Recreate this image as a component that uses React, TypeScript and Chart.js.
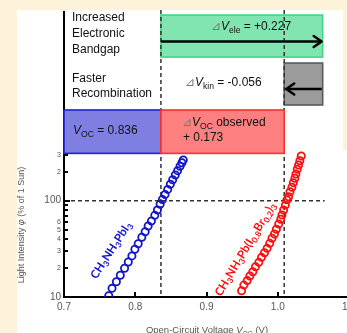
import { useEffect, useRef } from 'react';
import { Chart, registerables } from 'chart.js';
Chart.register(...registerables);

// ---- data ----
const xTicks = [0.7, 0.8, 0.9, 1.0, 1.1];
const yTickValues = [10, 20, 30, 40, 50, 60, 70, 80, 90, 100, 200, 300];
const yTickLabels = ['10', '2', '3', '4', '5', '6', '', '', '', '100', '2', '3'];
const yMajor = [10, 100];

const mapiVoc = [0.7628, 0.7674, 0.7735, 0.779, 0.785, 0.7902, 0.7953, 0.7995, 0.8041, 0.8092, 0.8139, 0.8181, 0.8227, 0.8274, 0.8311, 0.8349, 0.8381, 0.8418, 0.8455, 0.8492, 0.8525, 0.8562, 0.8594, 0.8628, 0.8655, 0.8674];
const mapiPhi = [10.3, 12.3, 14.4, 16.8, 19.9, 23.1, 26.7, 31.3, 35.7, 41.7, 47.6, 54.6, 61.5, 70.5, 80, 91.8, 103, 116, 131, 148, 165, 185, 205, 228, 248, 265];

const brVoc = [0.9492, 0.9524, 0.9571, 0.9608, 0.965, 0.9687, 0.9734, 0.9771, 0.9813, 0.985, 0.9887, 0.9919, 0.9953, 0.998, 1.0013, 1.0041, 1.0059, 1.0082, 1.0106, 1.0128, 1.0152, 1.0171, 1.0198, 1.0218, 1.024, 1.0254, 1.0273, 1.0292, 1.031, 1.0329];
const brPhi = [11.6, 13.3, 14.8, 16.5, 18.3, 20.6, 22.9, 25.8, 28.8, 32, 36.1, 40.7, 45.1, 50.5, 57.3, 64.1, 71, 80, 90, 102, 110, 124, 138, 154, 171, 189, 212, 235, 260, 291];

const vocBase = 0.836;
const dVele = 0.227;
const dVkin = -0.056;
const dVoc = 0.173;

// annotation rows (in light-intensity units of the log axis)
const rowEle = [3100, 8470];
const rowKin = [986, 2690];
const rowObs = [310, 875];
const arrowEleY = 4500;
const arrowKinY = 1445;
const oneSun = 100;

type Seg = { t: string; sub?: boolean; it?: boolean; col?: string };

function richWidth(ctx: CanvasRenderingContext2D, segs: Seg[], size: number, family: string, weight: string) {
  let w = 0;
  for (const s of segs) {
    ctx.font = `${s.it ? 'italic ' : ''}${weight} ${s.sub ? size * 0.72 : size}px ${family}`;
    w += ctx.measureText(s.t).width;
  }
  return w;
}

function drawRich(ctx: CanvasRenderingContext2D, segs: Seg[], x: number, yMid: number, size: number, family: string, weight: string, color: string, align: 'left' | 'center') {
  const w = richWidth(ctx, segs, size, family, weight);
  let cx = align === 'center' ? x - w / 2 : x;
  const base = yMid + size * 0.36;
  ctx.textBaseline = 'alphabetic';
  ctx.textAlign = 'left';
  for (const s of segs) {
    ctx.font = `${s.it ? 'italic ' : ''}${weight} ${s.sub ? size * 0.72 : size}px ${family}`;
    ctx.fillStyle = s.col || color;
    ctx.fillText(s.t, cx, base + (s.sub ? size * 0.22 : 0));
    cx += ctx.measureText(s.t).width;
  }
}

function arrow(ctx: CanvasRenderingContext2D, x0: number, x1: number, y: number) {
  const dir = x1 > x0 ? 1 : -1;
  ctx.save();
  ctx.strokeStyle = '#000';
  ctx.lineWidth = 2.5;
  ctx.setLineDash([]);
  ctx.beginPath();
  ctx.moveTo(x0, y);
  ctx.lineTo(x1 - dir * 1, y);
  ctx.stroke();
  ctx.lineCap = 'round';
  ctx.lineJoin = 'round';
  ctx.beginPath();
  ctx.moveTo(x1 - dir * 8, y - 5.5);
  ctx.lineTo(x1, y);
  ctx.lineTo(x1 - dir * 8, y + 5.5);
  ctx.stroke();
  ctx.restore();
}

const TXT = "'Liberation Sans', Arial, sans-serif";
const LBL = "Lato, 'Liberation Sans', sans-serif";

const decor = {
  id: 'decor',
  beforeDatasetsDraw(chart: any) {
    const { ctx, chartArea } = chart;
    const xs = chart.scales.x;
    const ys = chart.scales.y;
    const X = (v: number) => xs.getPixelForValue(v);
    const Y = (v: number) => ys.getPixelForValue(v);
    const xL = chartArea.left;
    const xA = X(vocBase);
    const xB = X(vocBase + dVoc);
    const xC = X(vocBase + dVele);
    const box = (x0: number, x1: number, row: number[], fill: string, stroke: string) => {
      const y0 = Y(row[1]);
      const y1 = Y(row[0]);
      ctx.save();
      ctx.setLineDash([]);
      ctx.fillStyle = fill;
      ctx.fillRect(x0, y0, x1 - x0, y1 - y0);
      ctx.strokeStyle = stroke;
      ctx.lineWidth = 1.6;
      ctx.strokeRect(x0, y0, x1 - x0, y1 - y0);
      ctx.restore();
    };
    ctx.save();
    // green and grey boxes
    box(xA, xC, rowEle, '#80e5b1', '#3fd686');
    box(xB, xC, rowKin, '#9b9b9b', '#5a5a5a');
    // dashed lines
    ctx.strokeStyle = '#333';
    ctx.lineWidth = 1.5;
    ctx.setLineDash([4, 3]);
    ctx.beginPath();
    ctx.moveTo(xA, chartArea.top - 2);
    ctx.lineTo(xA, chartArea.bottom);
    ctx.moveTo(xB, chartArea.top - 2);
    ctx.lineTo(xB, chartArea.bottom);
    ctx.moveTo(xL, Y(oneSun));
    ctx.lineTo(xC + 2, Y(oneSun));
    ctx.stroke();
    ctx.setLineDash([]);
    // observed row boxes
    box(xL, xA, rowObs, '#7f7fe2', '#1f1fd6');
    box(xA, xB, rowObs, '#ff8080', '#ff3030');
    // arrows
    arrow(ctx, xA, xC - 1, Y(arrowEleY));
    arrow(ctx, xC - 1, xB + 2, Y(arrowKinY));

    // texts
    const eleTop = Y(rowEle[1]);
    const kinTop = Y(rowKin[1]);
    const obsTop = Y(rowObs[1]);
    const s = 12;
    drawRich(ctx, [{ t: 'Increased' }], xL + 8, eleTop + 2, s, TXT, '', '#111', 'left');
    drawRich(ctx, [{ t: 'Electronic' }], xL + 8, eleTop + 18, s, TXT, '', '#111', 'left');
    drawRich(ctx, [{ t: 'Bandgap' }], xL + 8, eleTop + 34, s, TXT, '', '#111', 'left');
    drawRich(ctx, [{ t: 'Faster' }], xL + 8, kinTop + 15, s, TXT, '', '#111', 'left');
    drawRich(ctx, [{ t: 'Recombination' }], xL + 8, kinTop + 30, s, TXT, '', '#111', 'left');

    const fmt = (v: number) => (v >= 0 ? '+' : '-') + Math.abs(v).toFixed(3);
    drawRich(ctx, [{ t: '⊿', col: '#777' }, { t: 'V', it: true }, { t: 'ele', sub: true }, { t: ' = ' + fmt(dVele) }], xA + 50, eleTop + 11, s, TXT, '', '#111', 'left');
    drawRich(ctx, [{ t: '⊿', col: '#777' }, { t: 'V', it: true }, { t: 'kin', sub: true }, { t: ' = ' + fmt(dVkin) }], xA + 24, kinTop + 19, s, TXT, '', '#111', 'left');
    drawRich(ctx, [{ t: 'V', it: true }, { t: 'OC', sub: true }, { t: ' = ' + vocBase.toFixed(3) }], xL + 9, obsTop + 20, s, TXT, '', '#111', 'left');
    drawRich(ctx, [{ t: '⊿', col: '#777' }, { t: 'V', it: true }, { t: 'OC', sub: true }, { t: ' observed' }], xA + 21, obsTop + 12, s, TXT, '', '#111', 'left');
    drawRich(ctx, [{ t: '+ ' + dVoc.toFixed(3) }], xA + 22, obsTop + 27, s, TXT, '', '#111', 'left');

    // rotated compound labels
    const rot = (segs: Seg[], vx: number, vy: number, ang: number, color: string, size: number) => {
      ctx.save();
      ctx.translate(X(vx), Y(vy));
      ctx.rotate((ang * Math.PI) / 180);
      drawRich(ctx, segs, 0, 0, size, LBL, 'bold', color, 'center');
      ctx.restore();
    };
    rot([{ t: 'CH' }, { t: '3', sub: true }, { t: 'NH' }, { t: '3', sub: true }, { t: 'PbI' }, { t: '3', sub: true }], 0.7656, 30.8, -57, '#1414c8', 11.5);
    rot([{ t: 'CH' }, { t: '3', sub: true }, { t: 'NH' }, { t: '3', sub: true }, { t: 'Pb(I' }, { t: '0.8', sub: true }, { t: 'Br' }, { t: '0.2', sub: true }, { t: ')' }, { t: '3', sub: true }], 0.9538, 31.5, -59, '#ff1010', 11.5);
    ctx.restore();
  },
  afterDraw(chart: any) {
    const { ctx, chartArea } = chart;
    const xs = chart.scales.x;
    const ys = chart.scales.y;
    ctx.save();
    ctx.strokeStyle = '#000';
    ctx.lineWidth = 2;
    ctx.setLineDash([]);
    ctx.beginPath();
    for (const v of yTickValues) {
      const y = Math.round(ys.getPixelForValue(v));
      const len = yMajor.includes(v) ? 6 : 4;
      ctx.moveTo(chartArea.left, y);
      ctx.lineTo(chartArea.left + len, y);
    }
    for (const v of xTicks) {
      if (v === xTicks[0]) continue;
      const x = Math.round(xs.getPixelForValue(v));
      ctx.moveTo(x, chartArea.bottom);
      ctx.lineTo(x, chartArea.bottom - 5);
    }
    ctx.stroke();
    // axis titles
    drawRich(ctx, [{ t: 'Open-Circuit Voltage ' }, { t: 'V', it: true }, { t: 'OC', sub: true }, { t: ' (V)' }], 207, 330, 9.5, TXT, '', '#555', 'center');
    ctx.translate(21, 225);
    ctx.rotate(-Math.PI / 2);
    drawRich(ctx, [{ t: 'Light Intensity ' }, { t: 'φ', it: true }, { t: ' (% of 1 Sun)' }], 0, 0, 9, TXT, '', '#555', 'center');
    ctx.restore();
  },
};

export default function App() {
  const ref = useRef<HTMLCanvasElement | null>(null);
  useEffect(() => {
    if (!ref.current) return;
    const chart = new Chart(ref.current, {
      type: 'scatter',
      data: {
        datasets: [
          {
            data: mapiVoc.map((v, i) => ({ x: v, y: mapiPhi[i] })),
            borderColor: '#1414c8',
            backgroundColor: 'rgba(0,0,0,0)',
            pointRadius: 3.6,
            pointBorderWidth: 1.8,
            showLine: false,
          },
          {
            data: brVoc.map((v, i) => ({ x: v, y: brPhi[i] })),
            borderColor: '#ff1010',
            backgroundColor: 'rgba(0,0,0,0)',
            pointRadius: 3.6,
            pointBorderWidth: 1.8,
            showLine: false,
          },
        ],
      },
      options: {
        responsive: false,
        animation: false,
        devicePixelRatio: 1,
        layout: { padding: { left: 0, right: 10, top: 12, bottom: 0 } },
        plugins: { legend: { display: false }, tooltip: { enabled: false } },
        scales: {
          x: {
            type: 'linear',
            min: 0.7,
            max: 1.1,
            z: 1,
            afterBuildTicks: (s: any) => {
              s.ticks = xTicks.map((v) => ({ value: v }));
            },
            afterFit: (s: any) => {
              s.height = 36;
            },
            grid: { display: false, drawTicks: false },
            border: { display: true, color: '#000', width: 2 },
            ticks: {
              padding: 4,
              color: '#555',
              autoSkip: false,
              maxRotation: 0,
              font: { family: TXT, size: 10 },
              callback: (v: any) => Number(v).toFixed(1),
            },
          },
          y: {
            type: 'logarithmic',
            min: 10,
            max: 9110,
            z: 1,
            afterBuildTicks: (s: any) => {
              s.ticks = yTickValues.map((v) => ({ value: v }));
            },
            afterFit: (s: any) => {
              s.width = 64;
            },
            grid: { display: false, drawTicks: false },
            border: { display: true, color: '#000', width: 2 },
            ticks: {
              padding: 3,
              color: '#555',
              autoSkip: false,
              font: (c: any) => ({ family: TXT, size: c.tick && yMajor.includes(c.tick.value) ? 10 : 7 }),
              callback: (_v: any, i: number) => yTickLabels[i],
            },
          },
        },
      },
      plugins: [decor],
    } as any);
    return () => chart.destroy();
  }, []);
  return (
    <div style={{ position: 'fixed', left: 0, top: 0, width: 347, height: 333, overflow: 'hidden', background: '#fdf3da' }}>
      <div style={{ position: 'absolute', left: 17, top: 10, width: 330, height: 323, background: '#fff' }} />
      <div style={{ position: 'absolute', left: 343, top: 0, width: 4, height: 150, background: '#fdf3da' }} />
      <canvas ref={ref} width={360} height={333} style={{ position: 'absolute', left: 0, top: 0 }} />
    </div>
  );
}
